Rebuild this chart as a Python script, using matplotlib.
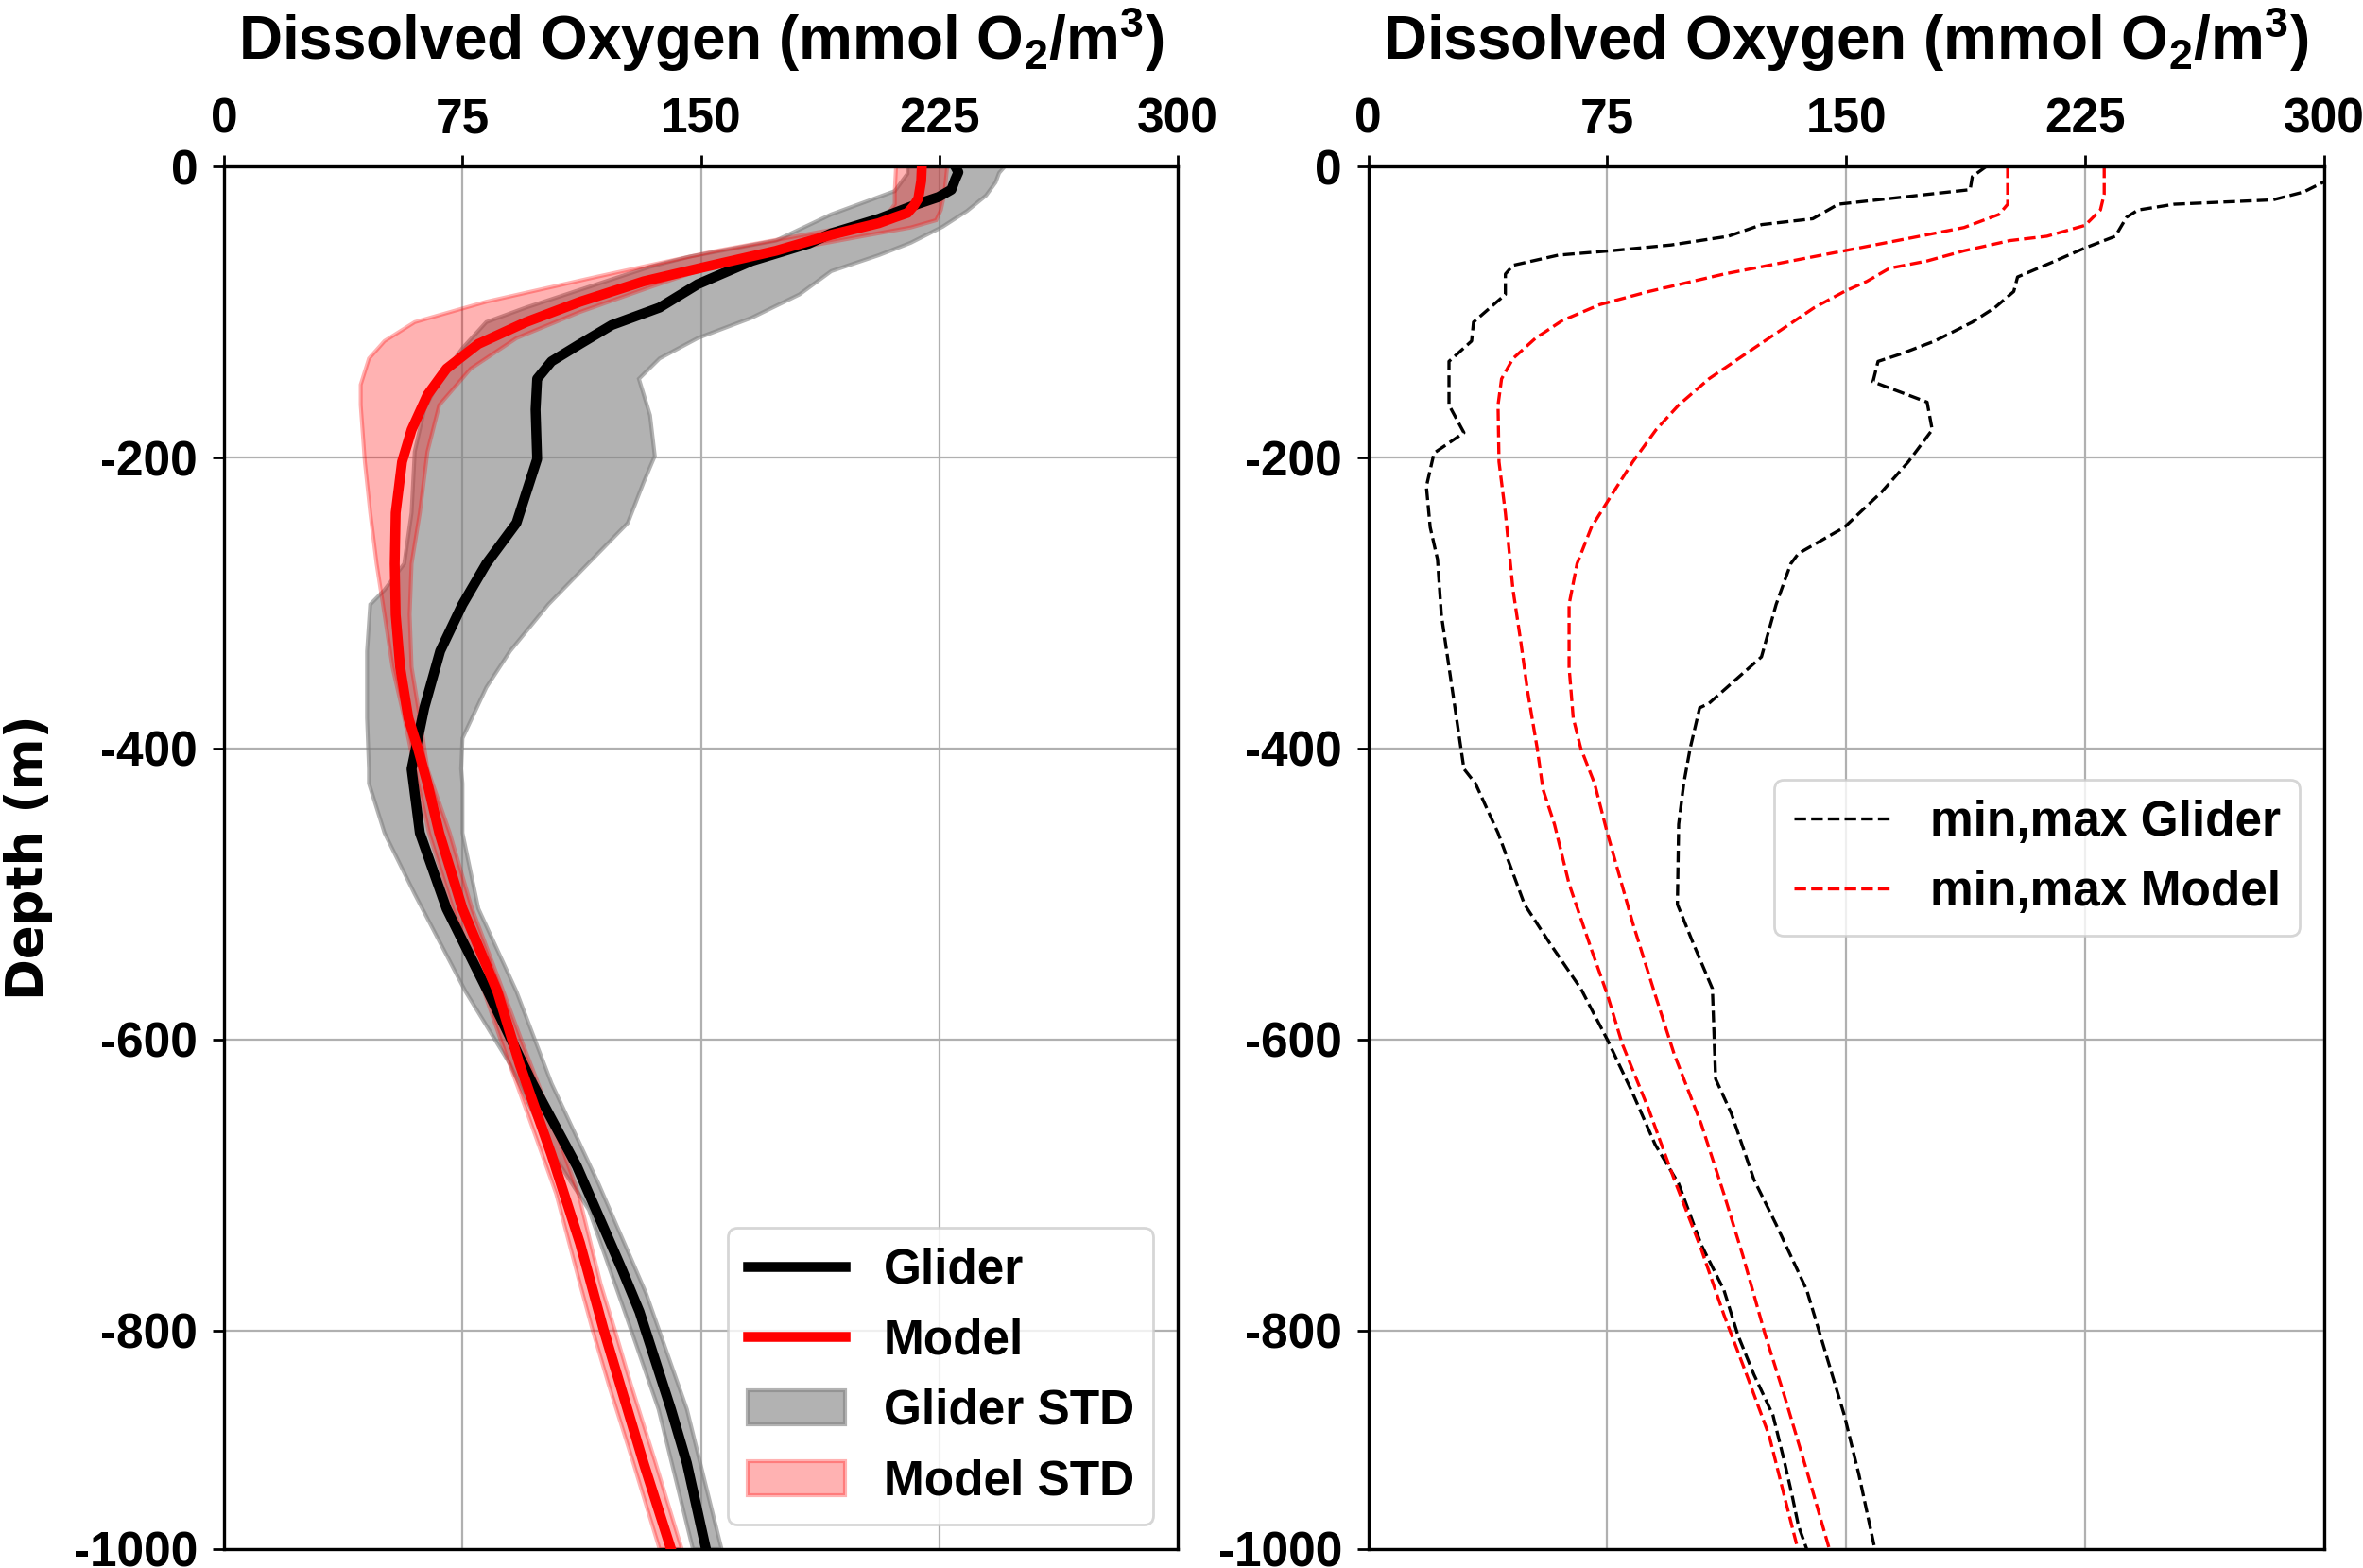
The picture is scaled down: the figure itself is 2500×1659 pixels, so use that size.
import matplotlib
matplotlib.use("Agg")
import matplotlib.pyplot as plt
import numpy as np

# ---------------- data ----------------
# Glider mean profile
glider_depth = [0, -4, -9, -16, -21, -26, -36, -46, -53, -65, -81, -97, -109, -122, -134,
                -146, -167, -201, -245, -273, -301, -333, -372, -414, -458, -510, -567,
                -630, -687, -757, -787, -854, -891, -950]
glider_mean = [230, 231, 230, 228.8, 224.8, 218, 206, 191, 184, 166, 149, 137, 122, 112, 103,
               98.5, 98, 98.5, 92, 82.5, 75, 68, 63, 59, 61.6, 70, 83,
               97, 111, 125, 130.7, 140.6, 145.6, 151.6]

# Model mean profile
model_depth = [0, -10, -22, -27, -32, -35, -39, -47, -58, -69, -79, -93, -107, -122, -139,
               -157, -181, -203, -238, -273, -308, -344, -379, -400, -424, -458, -510,
               -567, -617, -679, -740, -800, -891, -950]
model_mean = [219.5, 219.3, 218.4, 217, 215, 211, 206, 191, 173.6, 151.5, 132, 112, 95, 80, 70,
              64, 59, 56, 54, 53.7, 54, 55.4, 58, 61, 64, 67.7, 75,
              86, 93, 103, 112, 119.5, 132, 140.6]

# Glider STD band edges
gstd_lo_depth = [0, -5, -17, -25, -33, -51, -62, -69, -83, -97, -107, -125, -146, -167, -196,
                 -238, -273, -291, -301, -333, -379, -414, -424, -458, -500, -567, -617,
                 -677, -717, -791, -854, -950]
gstd_lo = [215, 215, 211, 201, 191, 173.6, 146.5, 134, 114.5, 95, 82.5, 75, 68, 63, 60,
           59, 56.7, 50.5, 46, 45, 45, 45.6, 45.6, 50.5, 60, 76, 90,
           103, 114.8, 126.7, 136.7, 147.5]
gstd_hi_depth = [0, -4.5, -11, -20, -30.7, -41.5, -52.5, -61, -72, -88, -104, -118, -132, -146,
                 -171, -199, -217, -245, -273, -301, -333, -358, -393, -414, -424, -458,
                 -510, -567, -630, -699, -774, -854, -950]
gstd_hi = [245.6, 243.8, 242.7, 239.7, 233.7, 226, 216, 206, 191, 181, 166, 149, 137, 130.5,
           134, 135.5, 132, 127, 114.5, 102, 90, 82.5, 75, 74.6, 75, 75,
           80, 92, 103, 117.8, 132.7, 145.6, 156.5]

# Model STD band edges
mstd_lo_depth = [0, -17, -26, -35, -42, -50, -58, -66, -76, -93, -107, -120, -132, -150, -164,
                 -203, -238, -273, -308, -344, -379, -414, -458, -510, -562, -603, -651,
                 -706, -768, -800, -837, -889, -950]
mstd_lo = [211.4, 211, 211, 208, 195, 175, 155, 138, 117, 82.5, 60, 50.5, 45.6, 43, 43,
           44.3, 46, 48, 50.5, 53, 56.7, 60, 64.5, 72, 81, 87.5, 95.5,
           104.5, 112, 116, 121, 128.5, 137]
mstd_hi_depth = [0, -19, -30, -37, -42, -48, -58, -70, -83, -100, -118, -139, -164, -196, -238,
                 -273, -308, -344, -379, -414, -458, -510, -562, -603, -651, -706, -768,
                 -800, -837, -889, -950]
mstd_hi = [227.5, 226.6, 225.5, 224, 216, 200.7, 176, 151.5, 134, 112, 92, 77.6, 67.7, 64, 61.6,
           59, 58.4, 59, 61.6, 64, 71, 78, 87, 94, 102.5, 111.5, 118.5,
           123, 128, 135.5, 144]

# Glider min / max
gmin_depth = [0, -7, -16, -26, -36, -40, -48, -54, -58, -61, -68, -74, -88, -107, -120, -134,
              -164, -183, -197, -220, -248, -270, -308, -344, -414, -424, -458, -507, -534,
              -565, -600, -637, -672, -699, -741, -772, -803, -830, -858, -889, -913, -934, -950]
gmin = [194, 189.6, 188.9, 147.5, 139.5, 123.5, 113, 95, 76, 59.6, 45.4, 43, 43, 33, 32.4, 25.3,
        25.3, 30, 20.6, 18.2, 19.4, 21.7, 22.9, 25.3, 30, 33.6, 40.7, 49, 57,
        66.7, 75, 83, 90, 97.4, 104.5, 111.6, 116, 121, 127, 130.5, 133, 135, 137.6]
gmax_depth = [0, -10.6, -17.6, -23, -26, -30, -35, -48, -56, -65, -76, -86, -97, -107, -120,
              -129, -134, -148, -162, -181, -203, -224, -248, -266, -273, -301, -337, -369,
              -372, -400, -424, -452, -507, -534, -565, -627, -651, -696, -727, -772, -858,
              -899, -950]
gmax = [312, 300, 293.6, 284, 253, 241.6, 238, 234.5, 225, 215.6, 203.8, 202.6, 196.7, 189.6,
        177.8, 167, 160, 158.4, 175.4, 177, 169.5, 161, 149.4, 135, 132.6, 128, 123.4, 106.9,
        104, 101, 99, 97.4, 97, 102, 108, 109, 114, 121, 128, 137.6, 149.4,
        154, 159]

# Model min / max
mmin_depth = [0, -26, -33, -42, -49, -58, -67, -74, -86, -95, -106, -118, -132, -146, -164,
              -203, -238, -291, -326, -361, -400, -428, -452, -493, -538, -569, -603, -648,
              -696, -744, -789, -830, -872, -913, -950]
mmin = [200.7, 200.7, 198, 187, 170.7, 149.4, 128, 111.6, 88, 72.6, 60.8, 52.5, 45.4, 41.8, 40.7,
        41, 43, 45.4, 47.8, 50, 53, 54.8, 58.4, 63, 70, 75, 79.7, 88,
        96, 104.5, 111.6, 118.7, 125.8, 130.5, 134.8]
mmax_depth = [0, -19, -30, -40.5, -48, -51, -58, -65, -70, -79, -86, -97, -111, -125, -146,
              -164, -181, -203, -227, -248, -273, -301, -344, -379, -400, -424, -458, -520,
              -569, -610, -658, -706, -748, -803, -844, -896, -950]
mmax = [231, 231, 229.8, 225, 213, 201.4, 187, 175.4, 163.6, 156.5, 149.4, 140, 130.5, 121, 106.9,
        97.4, 90.3, 83, 76, 70, 65.5, 63, 63, 64.3, 66.7, 71, 75, 83,
        90, 96, 104.5, 111.6, 117.5, 124.6, 130.5, 137.6, 144.7]

xticks = [0, 75, 150, 225, 300]
xticklabels = ['0', '75', '150', '225', '300']
yticks = [0, -200, -400, -600, -800, -950]
yticklabels = ['0', '-200', '-400', '-600', '-800', '-1000']

# ---------------- style ----------------
plt.rcParams['font.family'] = ['Liberation Sans', 'DejaVu Sans']
plt.rcParams['font.weight'] = 'bold'
plt.rcParams['mathtext.fontset'] = 'custom'
plt.rcParams['mathtext.rm'] = 'Liberation Sans:bold'
plt.rcParams['mathtext.bf'] = 'Liberation Sans:bold'
plt.rcParams['mathtext.default'] = 'bf'

TICK_FS = 18.5
XLAB_FS = 23
LEG_FS = 18.5
LW = 3.8

fig = plt.figure(figsize=(12.5, 8.295), dpi=200)
ax1 = fig.add_axes([0.0948, 0.0121, 0.4036, 0.8818])
ax2 = fig.add_axes([0.5791, 0.0121, 0.4044, 0.8818])

xlabel = 'Dissolved Oxygen (mmol O$_2$/m$^3$)'

for ax in (ax1, ax2):
    ax.set_xlim(0, 300)
    ax.set_ylim(-950, 0)
    ax.xaxis.tick_top()
    ax.xaxis.set_label_position('top')
    ax.set_xticks(xticks)
    ax.set_xticklabels(xticklabels)
    ax.set_yticks(yticks)
    ax.set_yticklabels(yticklabels)
    ax.tick_params(axis='both', labelsize=TICK_FS, length=4.5, width=1.0, pad=4.5)
    ax.tick_params(axis='y', pad=5.5)
    for lab in ax.get_xticklabels() + ax.get_yticklabels():
        lab.set_fontweight('bold')
    ax.grid(True, color='#b0b0b0', linewidth=0.8)
    ax.set_axisbelow(True)
    for sp in ax.spines.values():
        sp.set_linewidth(1.2)
        sp.set_color('black')
    ax.set_xlabel(xlabel, fontsize=XLAB_FS, fontweight='bold', labelpad=14)

# left panel
ax1.fill(np.concatenate([gstd_lo, gstd_hi[::-1]]),
         np.concatenate([gstd_lo_depth, gstd_hi_depth[::-1]]),
         facecolor='gray', edgecolor='gray', alpha=0.6, linewidth=1.5, label='Glider STD', zorder=2)
ax1.fill(np.concatenate([mstd_lo, mstd_hi[::-1]]),
         np.concatenate([mstd_lo_depth, mstd_hi_depth[::-1]]),
         facecolor='red', edgecolor='red', alpha=0.3, linewidth=1.5, label='Model STD', zorder=2)
ax1.plot(glider_mean, glider_depth, color='black', lw=LW, label='Glider', zorder=3)
ax1.plot(model_mean, model_depth, color='red', lw=LW, label='Model', zorder=4)
h, lbl = ax1.get_legend_handles_labels()
order = [lbl.index(n) for n in ['Glider', 'Model', 'Glider STD', 'Model STD']]
ax1.legend([h[i] for i in order], [lbl[i] for i in order], loc='lower right',
           prop={'size': LEG_FS, 'weight': 'bold', 'family': 'Liberation Sans'})
ax1.set_ylabel('Depth (m)', fontsize=19, fontweight='bold', family='DejaVu Sans', labelpad=8)

# right panel
ax2.plot(gmin, gmin_depth, color='black', ls='--', lw=1.2, label='min,max Glider')
ax2.plot(gmax, gmax_depth, color='black', ls='--', lw=1.2)
ax2.plot(mmin, mmin_depth, color='red', ls='--', lw=1.2, label='min,max Model')
ax2.plot(mmax, mmax_depth, color='red', ls='--', lw=1.2)
ax2.legend(loc='center right',
           prop={'size': LEG_FS, 'weight': 'bold', 'family': 'Liberation Sans'})

fig.savefig('out.png', dpi=200)
